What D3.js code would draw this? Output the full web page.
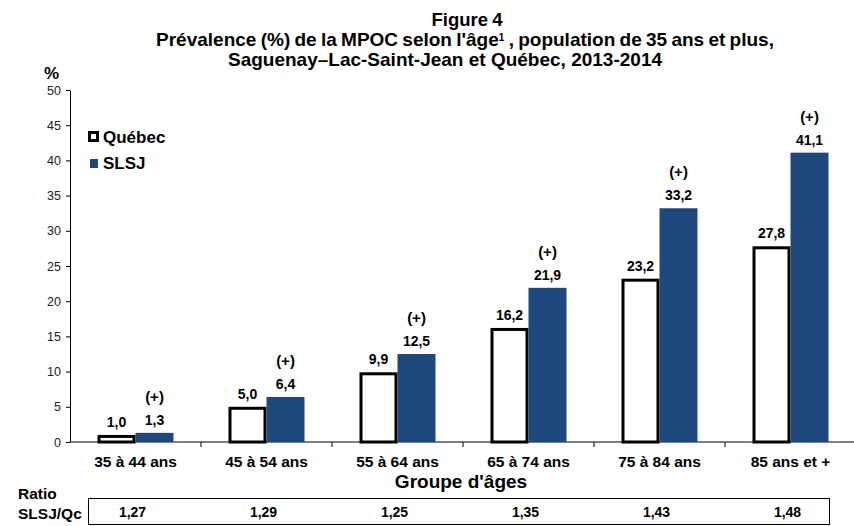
<!DOCTYPE html>
<html>
<head>
    <meta charset="utf-8">
    <script src="https://cdn.jsdelivr.net/npm/d3@7"></script>
    <style>
        body { margin: 0; background: #fff; }
        text { font-family: Arial, "Liberation Sans", sans-serif; }
    </style>
</head>

<body>
<div id="chart"></div>

<script>

    var categories = ['35 à 44 ans', '45 à 54 ans', '55 à 64 ans', '65 à 74 ans', '75 à 84 ans', '85 ans et +'];
    var quebec = [1.0, 5.0, 9.9, 16.2, 23.2, 27.8];
    var slsj = [1.3, 6.4, 12.5, 21.9, 33.2, 41.1];
    var significant = ['(+)', '(+)', '(+)', '(+)', '(+)', '(+)'];
    var ratios = ['1,27', '1,29', '1,25', '1,35', '1,43', '1,48'];
    var yTicks = [0, 5, 10, 15, 20, 25, 30, 35, 40, 45, 50];

    var width = 854;
    var height = 526;
    var blue = '#1F497D';
    var fmt = function(v) { return v.toFixed(1).replace('.', ','); };

    var svg = d3.select('#chart').append('svg')
        .attr('width', width)
        .attr('height', height);

    var xScale = d3.scaleBand()
        .domain(categories)
        .range([70, 856]);

    var yScale = d3.scaleLinear()
        .domain([0, 50])
        .range([442, 90]);

    var barW = 38;

    // title
    var title = ['Figure 4',
        'Prévalence (%) de la MPOC selon l\'âge',
        'Saguenay–Lac-Saint-Jean et Québec, 2013-2014'];
    svg.append('text').attr('x', 467).attr('y', 26).attr('text-anchor', 'middle')
        .attr('font-size', 18.5).attr('font-weight', 'bold').attr('word-spacing', -1).text(title[0]);
    var t2 = svg.append('text').attr('x', 465).attr('y', 46).attr('text-anchor', 'middle')
        .attr('font-size', 19).attr('font-weight', 'bold').attr('word-spacing', -1);
    t2.append('tspan').text(title[1]);
    t2.append('tspan').attr('font-size', 10).attr('dy', -5).text('1');
    t2.append('tspan').attr('dy', 5).text(' , population de 35 ans et plus,');
    svg.append('text').attr('x', 445).attr('y', 66).attr('text-anchor', 'middle')
        .attr('font-size', 19).attr('font-weight', 'bold').text(title[2]);

    svg.append('text').attr('x', 44).attr('y', 79)
        .attr('font-size', 17).attr('font-weight', 'bold').text('%');

    // y axis
    var yAxis = svg.append('g')
        .attr('transform', 'translate(70,0)')
        .call(d3.axisLeft(yScale).tickValues(yTicks).tickSize(4).tickSizeOuter(0));
    yAxis.select('.domain').attr('stroke', '#000');
    yAxis.selectAll('.tick line').attr('stroke', '#000');
    yAxis.selectAll('.tick text').attr('font-size', 12.5).attr('fill', '#222')
        .attr('font-family', 'Arial, "Liberation Sans", sans-serif').attr('x', -9);

    // x axis
    svg.append('line').attr('x1', 70).attr('x2', 854)
        .attr('y1', yScale(0)).attr('y2', yScale(0)).attr('stroke', '#000');
    svg.selectAll('line.xtick')
        .data(categories.slice(1))
        .enter().append('line')
        .attr('class', 'xtick')
        .attr('x1', function(d) { return xScale(d); })
        .attr('x2', function(d) { return xScale(d); })
        .attr('y1', yScale(0)).attr('y2', yScale(0) + 5)
        .attr('stroke', '#000');

    svg.selectAll('text.cat')
        .data(categories)
        .enter().append('text')
        .attr('class', 'cat')
        .attr('x', function(d) { return xScale(d) + xScale.bandwidth() / 2; })
        .attr('y', 467)
        .attr('text-anchor', 'middle')
        .attr('font-size', 15.5).attr('font-weight', 'bold')
        .text(function(d) { return d; });

    svg.append('text').attr('x', 461).attr('y', 488).attr('text-anchor', 'middle')
        .attr('font-size', 19).attr('font-weight', 'bold').text('Groupe d\'âges');

    // bars
    var centre = function(i) { return xScale(categories[i]) + xScale.bandwidth() / 2; };

    svg.selectAll('rect.qc')
        .data(quebec)
        .enter().append('rect')
        .attr('class', 'qc')
        .attr('x', function(d, i) { return centre(i) - barW + 1.5; })
        .attr('y', function(d) { return yScale(d) + 1.5; })
        .attr('width', barW - 3)
        .attr('height', function(d) { return yScale(0) - yScale(d) - 1.5; })
        .attr('fill', '#fff').attr('stroke', '#000').attr('stroke-width', 3);

    svg.selectAll('rect.slsj')
        .data(slsj)
        .enter().append('rect')
        .attr('class', 'slsj')
        .attr('x', function(d, i) { return centre(i); })
        .attr('y', function(d) { return yScale(d); })
        .attr('width', barW)
        .attr('height', function(d) { return yScale(0) - yScale(d); })
        .attr('fill', blue);

    svg.selectAll('text.qcv')
        .data(quebec)
        .enter().append('text')
        .attr('x', function(d, i) { return centre(i) - barW / 2; })
        .attr('y', function(d) { return yScale(d) - 8; })
        .attr('text-anchor', 'middle')
        .attr('font-size', 14).attr('font-weight', 'bold')
        .text(fmt);

    svg.selectAll('text.slsjv')
        .data(slsj)
        .enter().append('text')
        .attr('x', function(d, i) { return centre(i) + barW / 2; })
        .attr('y', function(d) { return yScale(d) - 8; })
        .attr('text-anchor', 'middle')
        .attr('font-size', 14).attr('font-weight', 'bold')
        .text(fmt);

    svg.selectAll('text.sig')
        .data(slsj)
        .enter().append('text')
        .attr('x', function(d, i) { return centre(i) + barW / 2; })
        .attr('y', function(d) { return yScale(d) - 31; })
        .attr('text-anchor', 'middle')
        .attr('font-size', 15).attr('font-weight', 'bold')
        .text(function(d, i) { return significant[i]; });

    // legend
    svg.append('rect').attr('x', 89.5).attr('y', 132.5).attr('width', 8).attr('height', 8)
        .attr('fill', '#fff').attr('stroke', '#000').attr('stroke-width', 3);
    svg.append('text').attr('x', 103).attr('y', 143)
        .attr('font-size', 17).attr('font-weight', 'bold').text('Québec');
    svg.append('rect').attr('x', 90).attr('y', 159).attr('width', 8).attr('height', 9)
        .attr('fill', blue);
    svg.append('text').attr('x', 103).attr('y', 169)
        .attr('font-size', 17).attr('font-weight', 'bold').text('SLSJ');

    // ratio table
    svg.append('text').attr('x', 18).attr('y', 499)
        .attr('font-family', 'Lato, sans-serif').attr('font-size', 15.5).attr('font-weight', 'bold').text('Ratio');
    svg.append('text').attr('x', 18).attr('y', 519)
        .attr('font-family', 'Lato, sans-serif').attr('font-size', 15.5).attr('font-weight', 'bold').text('SLSJ/Qc');
    svg.append('rect').attr('x', 88.5).attr('y', 498.5).attr('width', 741).attr('height', 26)
        .attr('fill', 'none').attr('stroke', '#000');
    svg.selectAll('text.ratio')
        .data(ratios)
        .enter().append('text')
        .attr('x', function(d, i) { return centre(i) - 3; })
        .attr('y', 517)
        .attr('text-anchor', 'middle')
        .attr('font-family', 'Lato, sans-serif')
        .attr('font-size', 14).attr('font-weight', 'bold')
        .text(function(d) { return d; });

</script>
</body>
</html>
